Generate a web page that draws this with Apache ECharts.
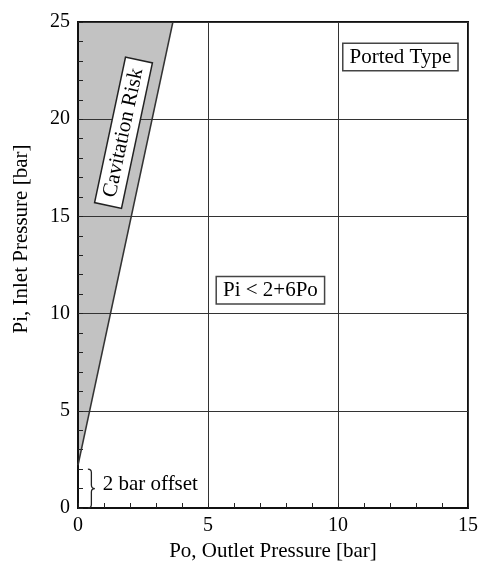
<!DOCTYPE html>
<html>
<head>
<meta charset="utf-8">
<script src="https://cdn.jsdelivr.net/npm/echarts@6/dist/echarts.min.js"></script>
<style>html,body{margin:0;padding:0;background:#fff}#c{width:487px;height:567px}</style>
</head>
<body>
<div id="c"></div>
<script>
// Boundary line Pi = 2 + 6 Po (as drawn)
const cavLinePo = [0, 3.65];
const cavLinePi = [2.2, 25];
// Annotation texts and their anchor values
const annText = ['Cavitation Risk', 'Ported Type', 'Pi < 2+6Po', '2 bar offset'];
const annPo = [1.75, 12.4, 7.4, 0.95];
const annPi = [19.3, 23.2, 11.2, 1.2];
// brace marking 2 bar offset
const bracePo = 0.38;
const braceFrom = 0;
const braceTo = 2;

const FONT = 'Liberation Serif';
const chart = echarts.init(document.getElementById('c'), null, {renderer: 'canvas'});

const lineData = cavLinePo.map((p, i) => [p, cavLinePi[i]]);

const axisCommon = {
  type: 'value',
  interval: 5,
  z: 1,
  axisLine: {show: true, lineStyle: {color: '#111', width: 2}},
  axisTick: {show: true, inside: true, length: 5, lineStyle: {color: '#222', width: 1}},
  minorTick: {show: true, splitNumber: 5, length: 5, lineStyle: {color: '#222', width: 1}},
  splitLine: {show: true, lineStyle: {color: '#333', width: 1}},
  axisLabel: {color: '#000', fontFamily: FONT, fontSize: 20},
  nameLocation: 'middle',
  nameTextStyle: {color: '#000', fontFamily: FONT, fontSize: 21}
};

const annItems = annText.map((t, i) => {
  const item = {value: [annPo[i], annPi[i]], name: t};
  let label = {
    show: true, formatter: t, position: 'inside',
    color: '#000', fontFamily: FONT, fontSize: 21,
    textBorderWidth: 0, opacity: 1,
    backgroundColor: '#fff', borderColor: '#444', borderWidth: 1.5,
    padding: [3, 6, 2, 6]
  };
  if (i === 0) { label.rotate = 78; label.padding = [3, 8, 2, 8]; label.borderColor = '#222'; }
  if (i === 3) { label.backgroundColor = 'transparent'; label.borderWidth = 0; label.align = 'left'; label.position = [0, 0]; label.verticalAlign = 'middle'; label.padding = 0; }
  item.label = label;
  return item;
});

chart.setOption({
  animation: false,
  grid: {left: 78, right: 19, top: 22, bottom: 55, show: true, borderColor: '#111', borderWidth: 2, backgroundColor: 'transparent', z: 1},
  xAxis: Object.assign({}, axisCommon, {
    min: 0, max: 15, name: 'Po, Outlet Pressure [bar]', nameGap: 33,
    axisLabel: Object.assign({}, axisCommon.axisLabel, {margin: 8})
  }),
  yAxis: Object.assign({}, axisCommon, {
    min: 0, max: 25, name: 'Pi, Inlet Pressure [bar]', nameGap: 46,
    nameTextStyle: Object.assign({}, axisCommon.nameTextStyle, {padding: [0, 0, 0, 52]}),
    axisLabel: Object.assign({}, axisCommon.axisLabel, {margin: 8})
  }),
  series: [
    {
      type: 'custom',
      z: 0,
      silent: true,
      data: [0],
      renderItem: function (params, api) {
        const pts = lineData.map(d => api.coord(d));
        pts.push(api.coord([0, cavLinePi[cavLinePi.length - 1]]));
        return {type: 'polygon', shape: {points: pts}, style: {fill: '#c2c2c2', stroke: 'none'}};
      }
    },
    {
      type: 'line',
      z: 3,
      data: lineData,
      symbol: 'none',
      lineStyle: {color: '#333', width: 1.5}
    },
    {
      type: 'custom',
      z: 3,
      silent: true,
      data: [[bracePo, braceFrom, braceTo]],
      renderItem: function (params, api) {
        const top = api.coord([api.value(0), api.value(2)]);
        const bot = api.coord([api.value(0), api.value(1)]);
        const x = top[0], yt = top[1], yb = bot[1], ym = (yt + yb) / 2, w = 3.5;
        const d = 'M' + x + ' ' + yt +
          ' Q' + (x + w) + ' ' + yt + ' ' + (x + w) + ' ' + (yt + w) +
          ' L' + (x + w) + ' ' + (ym - w) +
          ' Q' + (x + w) + ' ' + ym + ' ' + (x + 2 * w) + ' ' + ym +
          ' Q' + (x + w) + ' ' + ym + ' ' + (x + w) + ' ' + (ym + w) +
          ' L' + (x + w) + ' ' + (yb - w) +
          ' Q' + (x + w) + ' ' + yb + ' ' + x + ' ' + yb;
        return {type: 'path', shape: {pathData: d}, style: {fill: 'none', stroke: '#222', lineWidth: 1.3}};
      }
    },
    {
      type: 'scatter',
      z: 5,
      symbolSize: 0,
      silent: true,
      itemStyle: {opacity: 1},
      data: annItems
    }
  ]
});
</script>
</body>
</html>
